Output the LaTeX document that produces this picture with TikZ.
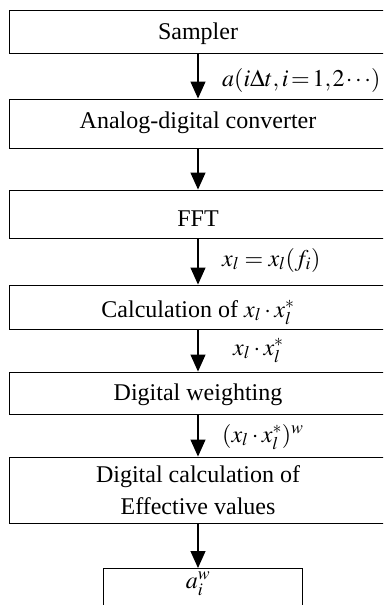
\documentclass[tikz,border=0pt]{standalone}
\usepackage{mathptmx}
\usepackage[no-math]{fontspec}
\setmainfont{Liberation Serif}
\usetikzlibrary{arrows.meta}
\newcommand{\bigfs}{\fontsize{24}{32}\selectfont}
\begin{document}
\begin{tikzpicture}[x=1pt,y=-1pt,
  box/.style={draw=black, line width=0.9pt, minimum width=378pt, inner xsep=0pt, inner ysep=0pt, font=\bigfs},
  bl/.style={text height=#1, text depth=4pt},
  arr/.style={line width=1.2pt, -{Triangle[width=15pt,length=17pt]}},
  lab/.style={anchor=base west, inner sep=0pt, font=\bigfs}]
\useasboundingbox (0,0) rectangle (383,605);
\clip (0,0) rectangle (383,605);
\node[box, bl=19pt, minimum height=43pt] (s) at (198,31.5) {Sampler};
\node[box, bl=14pt, minimum height=49pt] (adc) at (198,123.5) {Analog-digital converter};
\node[box, bl=28pt, minimum height=48pt] (fft) at (198,214) {FFT};
\node[box, bl=24pt, minimum height=44pt] (calc) at (198,307) {Calculation of $x_l\cdot x_l^*$};
\node[box, bl=18pt, minimum height=42pt] (dw) at (198,393) {Digital weighting};
\node[box, align=center, minimum height=66pt] (dce) at (198,490) {Digital calculation of\\Effective values};
\node[draw=black, line width=0.9pt, minimum width=199pt, inner sep=0pt, text height=20pt, text depth=40pt, anchor=north, font=\bigfs] (aw) at (202.5,568) {\hspace*{-9pt}$a_i^w$};
\draw[arr] (s.south) -- (adc.north);
\draw[arr] (adc.south) -- (fft.north);
\draw[arr] (fft.south) -- (calc.north);
\draw[arr] (calc.south) -- (dw.north);
\draw[arr] (dw.south) -- (dce.north);
\draw[arr] (dce.south) -- (dce.south |- aw.north);
\node[lab] (l1) at (222,86) {$a(i\Delta t,i\mkern2mu{=}\mkern2mu1,\mkern-1mu2\mkern-1mu\cdots)$};
\node[lab] (l2) at (222,266) {$x_l = x_l(f_i)$};
\node[lab] (l3) at (233,355) {$x_l\cdot x_l^*$};
\node[lab] (l4) at (222,442) {$(x_l\cdot x_l^*)^w$};
\end{tikzpicture}
\end{document}
